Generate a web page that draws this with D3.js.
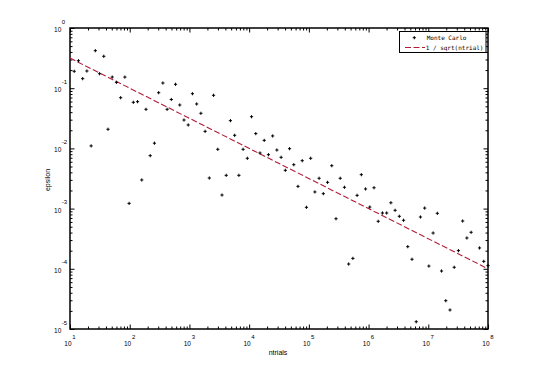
<!DOCTYPE html>
<html>
<head>
<meta charset="utf-8">
<script src="https://cdn.jsdelivr.net/npm/d3@7"></script>
<style>
  body { margin: 0; background: #fff; }
  svg { display: block; }
  .tick line { stroke: #000; stroke-width: 1; }
</style>
</head>
<body>
<svg id="content" width="540" height="372"></svg>
<script>
// Monte Carlo error vs number of trials
const ntrials = [
  11.77, 13.85, 16.30, 19.18, 22.57, 26.56, 31.26, 36.78, 43.29, 50.94,
  59.95, 70.55, 83.02, 97.70, 115.0, 135.3, 159.2, 187.4, 220.5, 259.5,
  305.4, 359.4, 422.9, 497.7, 585.7, 689.3, 811.1, 954.5, 1123, 1322,
  1556, 1831, 2154, 2535, 2984, 3511, 4132, 4863, 5722, 6734,
  7925, 9326, 10975, 12915, 15199, 17886, 21049, 24771, 29151, 34305,
  40370, 47508, 55908, 65793, 77426, 91116, 107227, 126186, 148497, 174753,
  205651, 242013, 284804, 335160, 394421, 464159, 546228, 642807, 756463, 890215,
  1047616, 1232847, 1450829, 1707353, 2009233, 2364489, 2782559, 3274549, 3853529, 4534879,
  5336699, 6280291, 7390722, 8697490, 10235310, 12045035, 14174742, 16681005, 19630407, 23101297,
  27185882, 31992671, 37649358, 44306215, 52140083, 72208090, 84975344, 100000000
];
const epsilon = [
  0.191, 0.286, 0.144, 0.193, 0.0110, 0.420, 0.174, 0.339, 0.0208, 0.153,
  0.125, 0.0695, 0.153, 0.00122, 0.0583, 0.0597, 0.00299, 0.0446, 0.00757, 0.0122,
  0.0842, 0.122, 0.0446, 0.0649, 0.116, 0.0526, 0.0296, 0.0245, 0.0810, 0.0547,
  0.0383, 0.0192, 0.00322, 0.0762, 0.00966, 0.00168, 0.00357, 0.0289, 0.0165, 0.00357,
  0.00966, 0.00685, 0.0336, 0.0176, 0.00839, 0.0136, 0.00786, 0.0161, 0.00940, 0.00711,
  0.00433, 0.00989, 0.00536, 0.00234, 0.00625, 0.00105, 0.00685, 0.00189, 0.00319, 0.00177,
  0.00273, 0.00516, 0.000679, 0.00319, 0.00226, 0.000120, 0.000149, 0.00166, 0.00366, 0.00212,
  0.00106, 0.00222, 0.000615, 0.000845, 0.000845, 0.00125, 0.000937, 0.000745, 0.000640, 0.000233,
  0.000144, 0.0000132, 0.000725, 0.00102, 0.000111, 0.000393, 0.000835, 0.0000919, 0.0000295, 0.0000207,
  0.000106, 0.000200, 0.000622, 0.000325, 0.000404, 0.000222, 0.000133, 0.000113
];
// reference line 1 / sqrt(ntrial), end points
const lineN = [10, 100000000];
const lineEps = [0.3162, 0.0001];

const xExp = [1, 2, 3, 4, 5, 6, 7, 8];
const yExp = [0, -1, -2, -3, -4, -5];
const legendLabels = ["Monte Carlo", "1 / sqrt(ntrial)"];

const svg = d3.select("#content");
const mLeft = 70, mRight = 488, mTop = 28, mBottom = 329;
const red = "#b01c38";

let x = d3.scaleLog().domain([10, 1e8]).range([mLeft, mRight]);
let y = d3.scaleLog().domain([1e-5, 1]).range([mBottom, mTop]);

// major and minor tick values
let xMajor = xExp.map(e => Math.pow(10, e));
let yMajor = yExp.map(e => Math.pow(10, e));
let xMinor = [], yMinor = [];
xExp.slice(0, -1).forEach(e => { for (let k = 2; k < 10; k++) xMinor.push(k * Math.pow(10, e)); });
yExp.slice(1).forEach(e => { for (let k = 2; k < 10; k++) yMinor.push(k * Math.pow(10, e)); });

function ticks(axis, scale, vals, size, tr) {
  let g = svg.append("g").attr("transform", tr)
    .call(axis(scale).tickValues(vals).tickSize(size).tickSizeOuter(0).tickFormat(""));
  g.select(".domain").remove();
}
[[xMajor, -4.5], [xMinor, -2.5]].forEach(function (t) {
  ticks(d3.axisBottom, x, t[0], t[1], "translate(0," + mBottom + ")");
  ticks(d3.axisTop, x, t[0], t[1], "translate(0," + mTop + ")");
});
[[yMajor, -4.5], [yMinor, -2.5]].forEach(function (t) {
  ticks(d3.axisLeft, y, t[0], t[1], "translate(" + mLeft + ",0)");
  ticks(d3.axisRight, y, t[0], t[1], "translate(" + mRight + ",0)");
});

svg.append("rect")
  .attr("x", mLeft).attr("y", mTop)
  .attr("width", mRight - mLeft).attr("height", mBottom - mTop)
  .attr("fill", "none").attr("stroke", "#000").attr("stroke-width", 1.5);

// tick labels 10^n
const font = "Liberation Sans, Arial, sans-serif";
let xl = svg.append("g").attr("font-family", font).attr("fill", "#000");
xExp.forEach(function (e) {
  let px = x(Math.pow(10, e));
  xl.append("text").attr("x", px + 1.5).attr("y", 345.5)
    .attr("text-anchor", "end").attr("font-size", 6.5).text("10");
  xl.append("text").attr("x", px + 2.2).attr("y", 339)
    .attr("font-size", 6).text(e);
});
let yl = svg.append("g").attr("font-family", font).attr("fill", "#000");
yExp.forEach(function (e) {
  let py = y(Math.pow(10, e));
  yl.append("text").attr("x", 61.3).attr("y", py + 4)
    .attr("text-anchor", "end").attr("font-size", 6.5).text("10");
  yl.append("text").attr("x", 61.8).attr("y", py - 4.5)
    .attr("font-size", 6).text(e);
});

// axis titles
svg.append("text").attr("x", 278).attr("y", 355)
  .attr("text-anchor", "middle").attr("font-family", font).attr("font-size", 7)
  .text("ntrials");
svg.append("text").attr("transform", "translate(50,180) rotate(-90)")
  .attr("text-anchor", "middle").attr("font-family", font).attr("font-size", 7)
  .text("epsilon");

// reference line
let line = d3.line().x(d => x(d[0])).y(d => y(d[1]));
svg.append("path")
  .attr("d", line(d3.zip(lineN, lineEps)))
  .attr("fill", "none").attr("stroke", red).attr("stroke-width", 1.1)
  .attr("stroke-dasharray", "6,2.5");

// Monte Carlo points
function plus(cx, cy) {
  return "M" + (cx - 1.6) + "," + cy + "H" + (cx + 1.6) + "M" + cx + "," + (cy - 1.6) + "V" + (cy + 1.6);
}
svg.append("g").selectAll("path")
  .data(d3.zip(ntrials, epsilon))
  .join("path")
  .attr("d", d => plus(x(d[0]), y(d[1])))
  .attr("stroke", "#000").attr("stroke-width", 1);

// legend
let lg = svg.append("g");
lg.append("rect").attr("x", 399.5).attr("y", 31.5).attr("width", 86.5).attr("height", 21)
  .attr("fill", "#fff").attr("stroke", "#000").attr("stroke-width", 1);
lg.append("path").attr("d", plus(414.3, 37.7)).attr("stroke", "#000").attr("stroke-width", 1);
lg.append("line").attr("x1", 405).attr("x2", 425).attr("y1", 47.5).attr("y2", 47.5)
  .attr("stroke", red).attr("stroke-width", 1.1).attr("stroke-dasharray", "6,2.5");
lg.selectAll("text").data(legendLabels).join("text")
  .attr("x", (d, i) => i === 0 ? 426.7 : 425.7)
  .attr("y", (d, i) => i === 0 ? 40.3 : 50)
  .attr("font-family", "DejaVu Sans Mono, monospace").attr("font-size", 6)
  .text(d => d);
</script>
</body>
</html>
